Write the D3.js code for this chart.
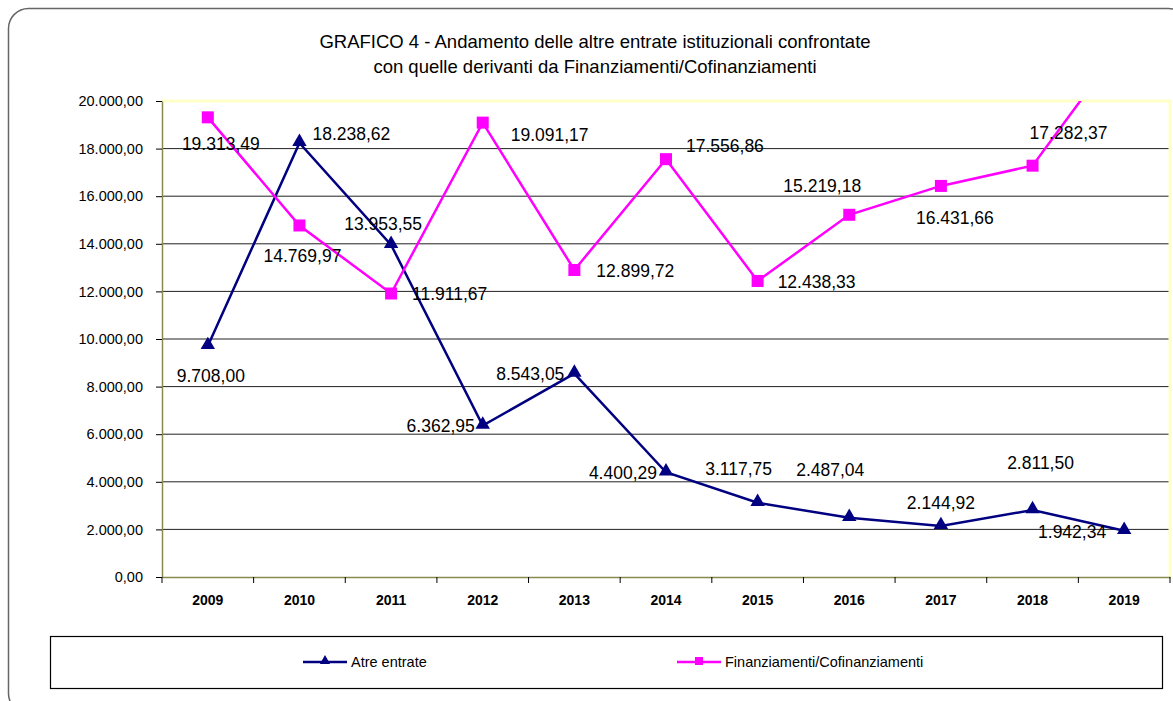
<!DOCTYPE html>
<html>
<head>
<meta charset="utf-8">
<script src="https://cdn.jsdelivr.net/npm/d3@7"></script>
<style>
  body { margin: 0; background: #fff; }
  svg text { font-family: "Liberation Sans", Arial, sans-serif; }
</style>
</head>
<body>
<div id="chart"></div>
<script>
// dati
const anni = ['2009', '2010', '2011', '2012', '2013', '2014', '2015', '2016', '2017', '2018', '2019'];
const altreEntrate = [9708.00, 18238.62, 13953.55, 6362.95, 8543.05, 4400.29, 3117.75, 2487.04, 2144.92, 2811.50, 1942.34];
const finanziamenti = [19313.49, 14769.97, 11911.67, 19091.17, 12899.72, 17556.86, 12438.33, 15219.18, 16431.66, 17282.37, 22500];
const yTicks = [0, 2000, 4000, 6000, 8000, 10000, 12000, 14000, 16000, 18000, 20000];

// spostamento etichette (come nel grafico excel)
const offBlu = [[3, 30, 'middle'], [13, -9, 'start'], [-8, -21, 'middle'], [-8, 0, 'end'], [-10, 0, 'end'], [-9, 0, 'end'],
  [-19, -34, 'middle'], [-19, -48, 'middle'], [0, -23, 'middle'], [8, -47, 'middle'], [-18, 1, 'end']];
const offMag = [[13, 26, 'middle'], [3, 30, 'middle'], [21, 0, 'start'], [28, 12, 'start'], [22, 1, 'start'], [20, -13, 'start'],
  [20, 1, 'start'], [-27, -29, 'middle'], [14, 32, 'middle'], [36, -33, 'middle'], [0, 0, 'none']];

const width = 1173, height = 701;
const margin = { left: 162, right: 3, top: 101, bottom: 124 };

const fmt = d3.formatLocale({ decimal: ',', thousands: '.', grouping: [3] }).format(',.2f');

const svg = d3.select('#chart').append('svg')
  .attr('width', width)
  .attr('height', height);

// cornice
svg.append('rect')
  .attr('x', 8.5).attr('y', 8.5)
  .attr('width', 1180).attr('height', 705)
  .attr('rx', 20).attr('ry', 20)
  .attr('fill', 'none')
  .attr('stroke', '#666')
  .attr('stroke-width', 1.5);

// titolo
const title = svg.append('text')
  .attr('text-anchor', 'middle')
  .attr('font-size', 18.5)
  .attr('fill', '#000');
title.append('tspan').attr('x', 595).attr('y', 48).text('GRAFICO 4 - Andamento delle altre entrate istituzionali confrontate');
title.append('tspan').attr('x', 595).attr('y', 73).text('con quelle derivanti da Finanziamenti/Cofinanziamenti');

const x = d3.scaleBand()
  .domain(anni)
  .range([margin.left, width - margin.right]);

const y = d3.scaleLinear()
  .domain([0, 20000])
  .range([height - margin.bottom, margin.top]);

// griglia
svg.append('g')
  .selectAll('line')
  .data(yTicks.slice(1, -1))
  .join('line')
  .attr('x1', margin.left).attr('x2', x.range()[1])
  .attr('y1', d => y(d)).attr('y2', d => y(d))
  .attr('stroke', '#222')
  .attr('stroke-width', 1);

// bordo chiaro sopra e a destra
svg.append('path')
  .attr('d', `M${margin.left},${y(20000)} H${x.range()[1]} V${y(0)}`)
  .attr('fill', 'none')
  .attr('stroke', '#ffffc8')
  .attr('stroke-width', 3);

// asse y
const yAxis = svg.append('g')
  .attr('transform', `translate(${margin.left},0)`)
  .call(d3.axisLeft(y).tickValues(yTicks).tickFormat(fmt).tickSize(6).tickSizeOuter(0));
yAxis.select('.domain').attr('stroke', '#8a8a50').attr('stroke-width', 1.5);
yAxis.selectAll('.tick line').attr('stroke', '#000');
yAxis.selectAll('.tick text')
  .attr('font-size', 14.5)
  .attr('font-family', '"Liberation Sans", Arial, sans-serif')
  .attr('fill', '#000')
  .attr('x', -19);

// asse x
const xAxis = svg.append('g')
  .attr('transform', `translate(0,${y(0)})`)
  .call(d3.axisBottom(x).tickSize(0).tickSizeOuter(0));
xAxis.select('.domain').attr('stroke', '#8a8a50').attr('stroke-width', 1.5);
xAxis.selectAll('.tick text')
  .attr('font-size', 14)
  .attr('font-weight', 'bold')
  .attr('font-family', '"Liberation Sans", Arial, sans-serif')
  .attr('fill', '#000')
  .attr('dy', '1.8em');
// tacche sui confini delle categorie
svg.append('g')
  .selectAll('line')
  .data(d3.range(anni.length + 1))
  .join('line')
  .attr('x1', i => margin.left + i * x.step())
  .attr('x2', i => margin.left + i * x.step())
  .attr('y1', y(0)).attr('y2', y(0) + 6)
  .attr('stroke', '#000');

const cx = d => x(d) + x.bandwidth() / 2;

svg.append('clipPath').attr('id', 'plot')
  .append('rect')
  .attr('x', margin.left).attr('y', y(20000))
  .attr('width', x.range()[1] - margin.left)
  .attr('height', y(0) - y(20000));

const line = d3.line()
  .x((d, i) => cx(anni[i]))
  .y(d => y(d));

const plot = svg.append('g').attr('clip-path', 'url(#plot)');

plot.append('path')
  .datum(altreEntrate)
  .attr('d', line)
  .attr('fill', 'none')
  .attr('stroke', '#000080')
  .attr('stroke-width', 2.5);

plot.append('path')
  .datum(finanziamenti)
  .attr('d', line)
  .attr('fill', 'none')
  .attr('stroke', '#ff00ff')
  .attr('stroke-width', 2.5);

const tri = d3.symbol().type(d3.symbolTriangle).size(90);

plot.selectAll('.tri')
  .data(altreEntrate)
  .join('path')
  .attr('class', 'tri')
  .attr('d', tri)
  .attr('transform', (d, i) => `translate(${cx(anni[i])},${y(d) - 1})`)
  .attr('fill', '#000080');

plot.selectAll('.sq')
  .data(finanziamenti)
  .join('rect')
  .attr('class', 'sq')
  .attr('x', (d, i) => cx(anni[i]) - 6)
  .attr('y', d => y(d) - 6)
  .attr('width', 12).attr('height', 12)
  .attr('fill', '#ff00ff');

// etichette dati
function etichette(values, off) {
  svg.append('g')
    .selectAll('text')
    .data(values.map((v, i) => ({ v, i })).filter(d => off[d.i][2] !== 'none'))
    .join('text')
    .attr('x', d => cx(anni[d.i]) + off[d.i][0])
    .attr('y', d => y(d.v) + off[d.i][1])
    .attr('dy', '0.36em')
    .attr('text-anchor', d => off[d.i][2])
    .attr('font-size', 17.5)
    .attr('fill', '#000')
    .text(d => fmt(d.v));
}
etichette(altreEntrate, offBlu);
etichette(finanziamenti, offMag);

// legenda
svg.append('rect')
  .attr('x', 50.5).attr('y', 636.5)
  .attr('width', 1112).attr('height', 52)
  .attr('fill', '#fff')
  .attr('stroke', '#000')
  .attr('stroke-width', 1.2);

const legenda = [
  { nome: 'Atre entrate', colore: '#000080', x: 303, tipo: 'tri' },
  { nome: 'Finanziamenti/Cofinanziamenti', colore: '#ff00ff', x: 677, tipo: 'sq' }
];
const lg = svg.append('g').selectAll('g')
  .data(legenda)
  .join('g')
  .attr('transform', d => `translate(${d.x},662)`);
lg.append('line')
  .attr('x1', 0).attr('x2', 44)
  .attr('stroke', d => d.colore)
  .attr('stroke-width', 2.5);
lg.append('path')
  .attr('d', d => d.tipo === 'tri' ? d3.symbol().type(d3.symbolTriangle).size(45)() : d3.symbol().type(d3.symbolSquare).size(64)())
  .attr('transform', 'translate(22,-1)')
  .attr('fill', d => d.colore);
lg.append('text')
  .attr('x', 48)
  .attr('dy', '0.35em')
  .attr('font-size', 14.5)
  .attr('fill', '#000')
  .text(d => d.nome);
</script>
</body>
</html>
